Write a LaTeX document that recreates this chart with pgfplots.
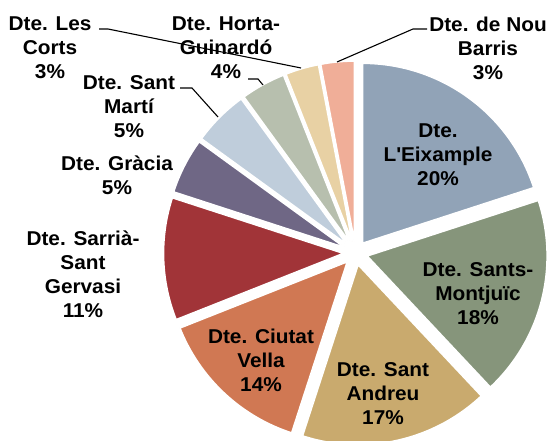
\documentclass[border=0pt]{standalone}
\usepackage{pgfplots}
\pgfplotsset{compat=1.18}
\usepackage{fontspec}
\setmainfont{Liberation Sans}[FakeStretch=1.04]
\definecolor{cEix}{HTML}{91A3B7}
\definecolor{cSants}{HTML}{86957B}
\definecolor{cAndreu}{HTML}{C9AA6E}
\definecolor{cCiutat}{HTML}{D07853}
\definecolor{cSarria}{HTML}{A13438}
\definecolor{cGracia}{HTML}{6F6785}
\definecolor{cMarti}{HTML}{BFCDDB}
\definecolor{cHorta}{HTML}{B7BFAE}
\definecolor{cCorts}{HTML}{E8D1A4}
\definecolor{cNou}{HTML}{F0AE98}
\tikzset{lbl/.style={font=\fontsize{20}{24}\selectfont\bfseries, align=center, text=black, inner sep=0pt}}
% #1 cumulative share before this slice (%), #2 share (%), #3 colour
\newcommand\slice[3]{%
  \fill[#3, draw=white, line width=1.6pt]
    (axis cs:{355.5+12*cos(90-3.6*(#1+#2/2))},{188+12*sin(90-3.6*(#1+#2/2))})
    -- ++({90-3.6*(#1+#2)}:180pt)
    arc[start angle={90-3.6*(#1+#2)}, end angle={90-3.6*(#1)}, radius=180pt]
    -- cycle;}
\begin{document}
\begin{tikzpicture}
\begin{axis}[x=1pt, y=1pt, xmin=0, xmax=552, ymin=0, ymax=441,
  hide axis, clip=true]
% shares in percent, clockwise from 12 o'clock
\slice{0}{20}{cEix}
\slice{20}{18}{cSants}
\slice{38}{17}{cAndreu}
\slice{55}{14}{cCiutat}
\slice{69}{11}{cSarria}
\slice{80}{5}{cGracia}
\slice{85}{5}{cMarti}
\slice{90}{4}{cHorta}
\slice{94}{3}{cCorts}
\slice{97}{3}{cNou}
% leader lines
\draw[black, line width=1.1pt] (axis cs:99,412) -- (axis cs:108,412) -- (axis cs:301,373);
\draw[black, line width=1.1pt] (axis cs:248,362) -- (axis cs:258,362) -- (axis cs:263,356);
\draw[black, line width=1.1pt] (axis cs:180,353) -- (axis cs:192,353) -- (axis cs:218,324);
\draw[black, line width=1.1pt] (axis cs:427,412) -- (axis cs:413,412) -- (axis cs:337,379);
% labels
\node[lbl] at (axis cs:50,393) {Dte. Les\\Corts\\3\%};
\node[lbl] at (axis cs:226,393) {Dte. Horta-\\Guinardó\\4\%};
\node[lbl] at (axis cs:129,334) {Dte. Sant\\Martí\\5\%};
\node[lbl] at (axis cs:117,265.5) {Dte. Gràcia\\5\%};
\node[lbl] at (axis cs:83,166.5) {Dte. Sarrià-\\Sant\\Gervasi\\11\%};
\node[lbl] at (axis cs:488,393) {Dte. de Nou\\Barris\\3\%};
\node[lbl] at (axis cs:438,286) {Dte.\\L\textquotesingle Eixample\\20\%};
\node[lbl] at (axis cs:478,147) {Dte. Sants-\\Montjuïc\\18\%};
\node[lbl] at (axis cs:383,47) {Dte. Sant\\Andreu\\17\%};
\node[lbl] at (axis cs:261,81) {Dte. Ciutat\\Vella\\14\%};
\end{axis}
\pgfresetboundingbox
\path[use as bounding box] (0,0) rectangle (552pt,441pt);
\end{tikzpicture}
\end{document}
